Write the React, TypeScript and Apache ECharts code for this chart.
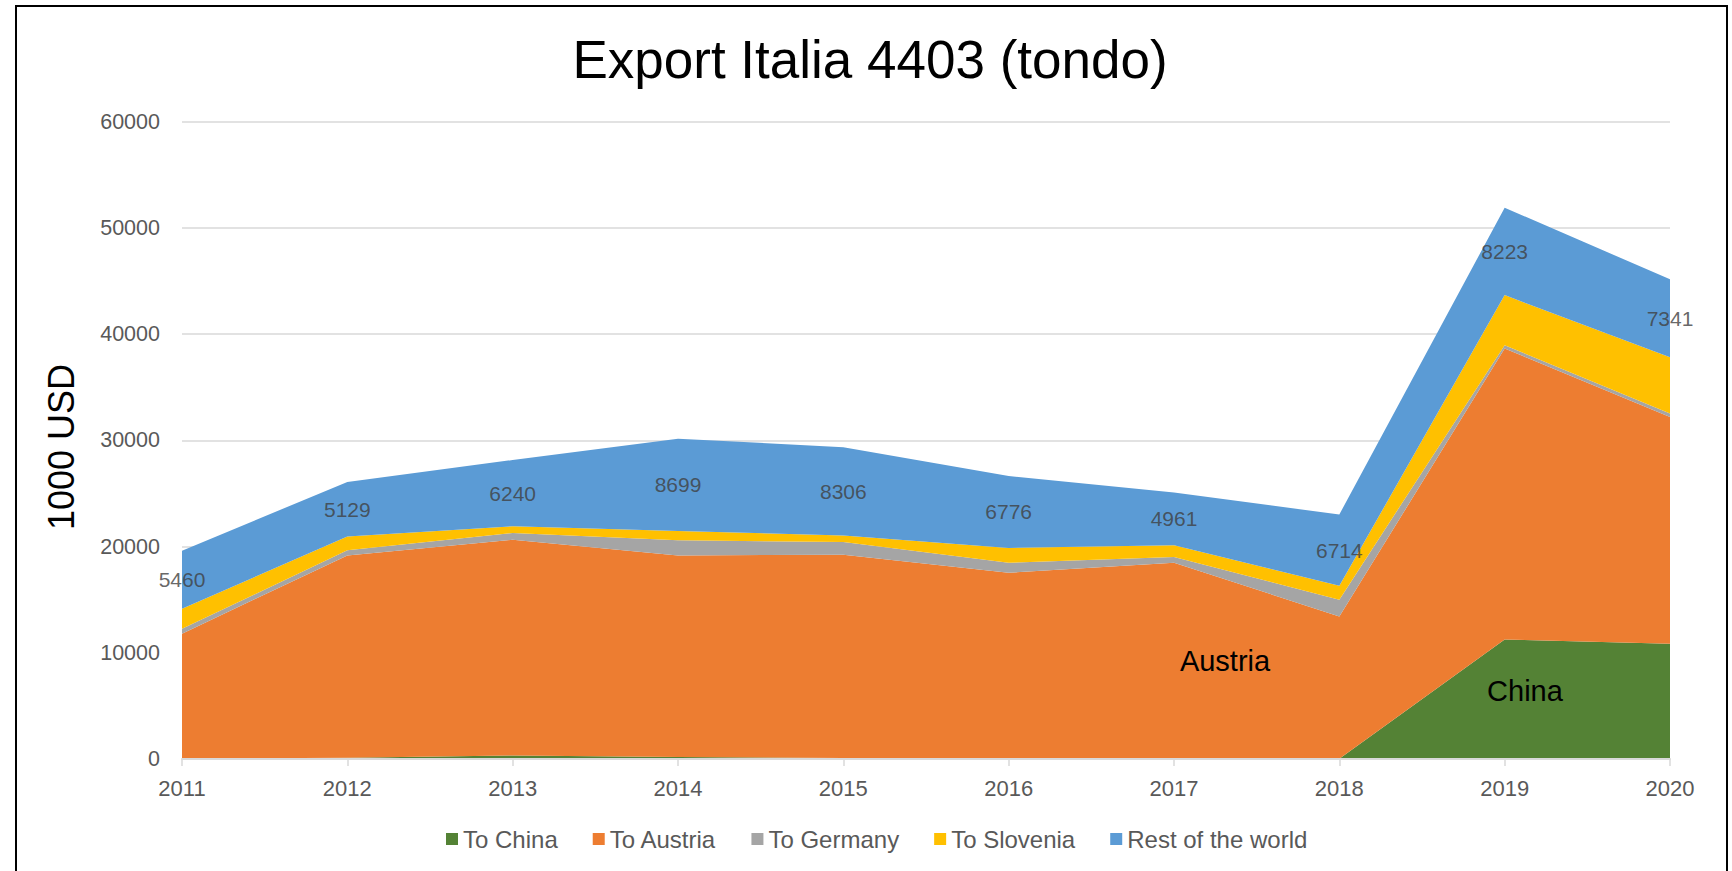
import React, { useEffect, useRef } from "react";
import * as echarts from "echarts";

const years = ["2011", "2012", "2013", "2014", "2015", "2016", "2017", "2018", "2019", "2020"];
const toChina = [30, 120, 330, 200, 100, 80, 90, 20, 11250, 10850];
const toAustria = [11770, 19040, 20310, 18960, 19120, 17450, 18380, 13390, 27390, 21350];
const toGermany = [450, 480, 630, 1420, 1200, 940, 540, 1590, 310, 310];
const toSlovenia = [1890, 1310, 630, 870, 625, 1390, 1100, 1300, 4710, 5300];
const restOfWorld = [5460, 5129, 6240, 8699, 8306, 6776, 4961, 6714, 8223, 7341];

const seriesNames = ["To China", "To Austria", "To Germany", "To Slovenia", "Rest of the world"];
const seriesColors = ["#548235", "#ED7D31", "#A5A5A5", "#FFC000", "#5B9BD5"];
const yTicks = { min: 0, max: 60000, interval: 10000 };

const FONT = "'Liberation Sans', Arial, Helvetica, sans-serif";

export default function App() {
  const ref = useRef<HTMLDivElement>(null);

  useEffect(() => {
    if (!ref.current) return;
    const chart = echarts.init(ref.current, null, { renderer: "svg" });
    const values = [toChina, toAustria, toGermany, toSlovenia, restOfWorld];
    const labelMid = years.map(
      (_, i) => toChina[i] + toAustria[i] + toGermany[i] + toSlovenia[i] + restOfWorld[i] / 2
    );

    const areaSeries = values.map((v, k) => ({
      name: seriesNames[k],
      type: "line",
      stack: "total",
      data: v,
      symbol: "none",
      showSymbol: false,
      lineStyle: { width: 0, opacity: 0 },
      areaStyle: { color: seriesColors[k], opacity: 1 },
      itemStyle: { color: seriesColors[k] },
      emphasis: { disabled: true },
      z: 2,
    }));

    chart.setOption({
      animation: false,
      backgroundColor: "#ffffff",
      grid: { left: 182, right: 62, top: 121.5, bottom: 112, containLabel: false },
      legend: {
        data: seriesNames,
        left: 441,
        top: 822,
        icon: "rect",
        itemWidth: 12,
        itemHeight: 12,
        itemGap: 35,
        textStyle: { fontFamily: FONT, fontSize: 24, color: "#595959" },
      },
      xAxis: {
        type: "category",
        data: years,
        boundaryGap: false,
        axisLine: { show: true, lineStyle: { color: "#D9D9D9", width: 2 } },
        axisTick: { show: true, length: 7, lineStyle: { color: "#D9D9D9", width: 1.5 } },
        axisLabel: { fontFamily: FONT, fontSize: 22, color: "#595959", margin: 18 },
        splitLine: { show: false },
        z: 5,
      },
      yAxis: {
        type: "value",
        min: yTicks.min,
        max: yTicks.max,
        interval: yTicks.interval,
        axisLine: { show: false },
        axisTick: { show: false },
        axisLabel: {
          fontFamily: FONT,
          fontSize: 21.5,
          color: "#595959",
          margin: 22,
          formatter: (v: number) => String(v),
        },
        splitLine: { lineStyle: { color: "#D9D9D9", width: 1.5 } },
      },
      series: [
        ...areaSeries,
        {
          name: "labels",
          type: "scatter",
          data: labelMid,
          symbolSize: 0,
          silent: true,
          z: 10,
          label: {
            show: true,
            position: "inside",
            formatter: (p: any) => String(restOfWorld[p.dataIndex]),
            fontFamily: FONT,
            fontSize: 21,
            color: "#404040",
          },
        },
      ],
      graphic: [
        {
          type: "rect",
          shape: { x: 16, y: 6, width: 1711, height: 920 },
          style: { fill: "none", stroke: "#000000", lineWidth: 2 },
          silent: true,
          z: 100,
        },
        {
          type: "text",
          x: 870,
          y: 59,
          style: {
            text: "Export Italia 4403 (tondo)",
            fontFamily: FONT,
            fontSize: 53,
            fill: "#000000",
            align: "center",
            verticalAlign: "middle",
          },
          z: 100,
        },
        {
          type: "text",
          x: 61,
          y: 447,
          rotation: Math.PI / 2,
          style: {
            text: "1000 USD",
            fontFamily: FONT,
            fontSize: 36,
            fill: "#000000",
            align: "center",
            verticalAlign: "middle",
          },
          z: 100,
        },
        {
          type: "text",
          x: 1225,
          y: 661,
          style: {
            text: "Austria",
            fontFamily: FONT,
            fontSize: 29,
            fill: "#000000",
            align: "center",
            verticalAlign: "middle",
          },
          z: 100,
        },
        {
          type: "text",
          x: 1525,
          y: 691,
          style: {
            text: "China",
            fontFamily: FONT,
            fontSize: 29,
            fill: "#000000",
            align: "center",
            verticalAlign: "middle",
          },
          z: 100,
        },
      ],
    });

    return () => chart.dispose();
  }, []);

  return (
    <div
      ref={ref}
      style={{ position: "fixed", left: 0, top: 0, width: 1732, height: 871, background: "#fff" }}
    />
  );
}
